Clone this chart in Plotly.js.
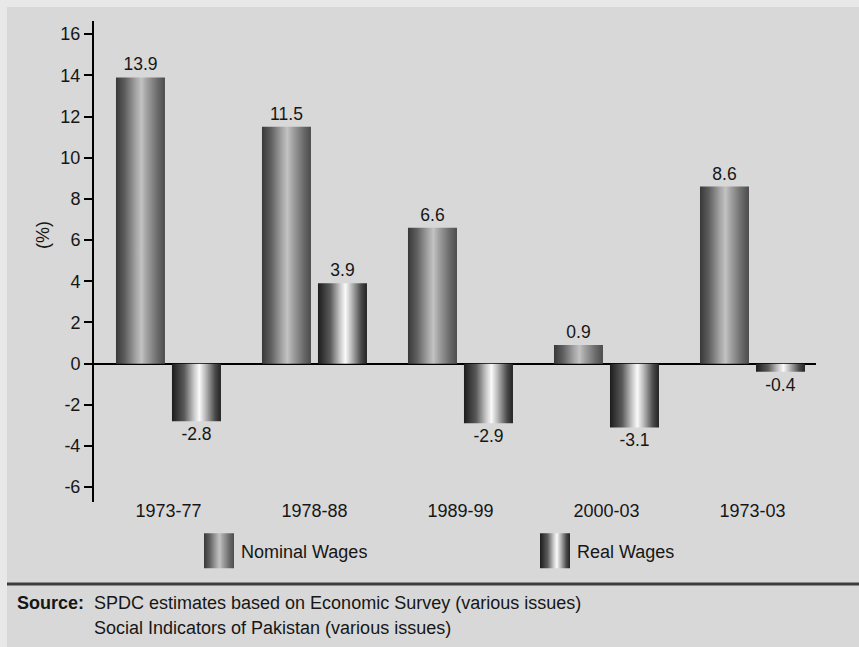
<!DOCTYPE html>
<html><head><meta charset="utf-8">
<script src="https://cdn.plot.ly/plotly-3.0.1.min.js"></script>
<style>
html,body{margin:0;padding:0;background:#e8e8e8;width:859px;height:647px;overflow:hidden}
#chart{position:absolute;left:7px;top:7px;width:852px;height:640px}
</style></head><body><div id="chart"></div>
<script>
// ---- data ----
const periods = ['1973-77', '1978-88', '1989-99', '2000-03', '1973-03'];
const nominalWages = [13.9, 11.5, 6.6, 0.9, 8.6];
const realWages = [-2.8, 3.9, -2.9, -3.1, -0.4];
const seriesNames = ['Nominal Wages', 'Real Wages'];
const yTickValues = [-6, -4, -2, 0, 2, 4, 6, 8, 10, 12, 14, 16];
const yTitle = '(%)';
const sourceLabel = 'Source:';
const sourceLines = ['SPDC estimates based on Economic Survey (various issues)',
                     'Social Indicators of Pakistan (various issues)'];

// ---- geometry helpers (page pixel -> paper) ----
const W = 852, H = 640;
const M = {l: 87, r: 43, t: 14, b: 145};
const PW = W - M.l - M.r, PH = H - M.t - M.b;
const px = x => (x - 7 - M.l) / PW;
const py = y => (H - M.b + 7 - y) / PH;

const FONT = '"Liberation Sans", Arial, Helvetica, sans-serif';
const TXT = '#161616';

const gradients = [
  [[0, '#383838'], [0.18, '#5e5e5e'], [0.42, '#a8a8a8'], [0.52, '#c2c2c2'], [0.62, '#a4a4a4'], [0.85, '#6a6a6a'], [1, '#4c4c4c']],
  [[0, '#1c1c1c'], [0.25, '#5a5a5a'], [0.45, '#c8c8c8'], [0.56, '#fafafa'], [0.68, '#bcbcbc'], [0.88, '#4a4a4a'], [1, '#222222']]
];

const mk = (name, vals, legendId) => ({
  type: 'bar', name: name, x: periods, y: vals, legend: legendId,
  text: vals.map(v => String(v)), textposition: 'outside',
  textfont: {family: FONT, size: 17.5, color: TXT},
  constraintext: 'none', cliponaxis: false,
  marker: {color: '#888888', line: {width: 0}},
  hoverinfo: 'x+y'
});

const data = [mk(seriesNames[0], nominalWages, 'legend'), mk(seriesNames[1], realWages, 'legend2')];

const legendBase = {orientation: 'h', xanchor: 'left', yanchor: 'middle', y: py(551),
                    bgcolor: 'rgba(0,0,0,0)', borderwidth: 0,
                    font: {family: FONT, size: 18, color: TXT}};

const layout = {
  width: W, height: H,
  margin: M,
  paper_bgcolor: '#d8d8d8', plot_bgcolor: '#d8d8d8',
  font: {family: FONT, size: 18, color: TXT},
  barmode: 'group', bargap: 0.233, bargroupgap: 0.125,
  showlegend: true,
  legend: Object.assign({}, legendBase, {x: px(201)}),
  legend2: Object.assign({}, legendBase, {x: px(537)}),
  xaxis: {type: 'category', range: [-0.51, 4.435], showline: false, showgrid: false,
          zeroline: false, ticks: '', ticklabelstandoff: -4,
          tickfont: {family: FONT, size: 18, color: TXT}, fixedrange: true},
  yaxis: {range: [-6.72, 16.64], tickvals: yTickValues, ticktext: yTickValues.map(String),
          showline: true, linecolor: '#000', linewidth: 2,
          ticks: 'outside', ticklen: 8, tickwidth: 2, tickcolor: '#000',
          showgrid: false, zeroline: true, zerolinecolor: '#000', zerolinewidth: 2,
          tickfont: {family: FONT, size: 18, color: TXT}, fixedrange: true},
  shapes: [{type: 'line', xref: 'paper', yref: 'paper', x0: px(7), x1: px(859), y0: py(584), y1: py(584),
            line: {color: '#3c3c3c', width: 3}}],
  annotations: [
    {text: yTitle, textangle: -90, xref: 'paper', yref: 'paper', x: px(43), y: py(235),
     xanchor: 'center', yanchor: 'middle', showarrow: false, font: {family: FONT, size: 18, color: TXT}},
    {text: '<b>' + sourceLabel + '</b>', xref: 'paper', yref: 'paper', x: px(15), y: py(603),
     xanchor: 'left', yanchor: 'middle', showarrow: false, font: {family: FONT, size: 18, color: TXT}},
    {text: sourceLines[0], xref: 'paper', yref: 'paper', x: px(92), y: py(603),
     xanchor: 'left', yanchor: 'middle', showarrow: false, font: {family: FONT, size: 18, color: TXT}},
    {text: sourceLines[1], xref: 'paper', yref: 'paper', x: px(92), y: py(628),
     xanchor: 'left', yanchor: 'middle', showarrow: false, font: {family: FONT, size: 18, color: TXT}}
  ]
};

const gd = document.getElementById('chart');
Plotly.newPlot(gd, data, layout, {displayModeBar: false, staticPlot: true}).then(applyGradients);

function applyGradients() {
  const ns = 'http://www.w3.org/2000/svg';
  const svg = gd.querySelector('svg.main-svg');
  let defs = svg.querySelector('defs');
  if (!defs) { defs = document.createElementNS(ns, 'defs'); svg.insertBefore(defs, svg.firstChild); }
  gradients.forEach((stops, i) => {
    const lg = document.createElementNS(ns, 'linearGradient');
    lg.setAttribute('id', 'barGrad' + i);
    lg.setAttribute('x1', '0'); lg.setAttribute('y1', '0');
    lg.setAttribute('x2', '1'); lg.setAttribute('y2', '0');
    stops.forEach(([o, c]) => {
      const s = document.createElementNS(ns, 'stop');
      s.setAttribute('offset', o); s.setAttribute('stop-color', c);
      lg.appendChild(s);
    });
    defs.appendChild(lg);
  });
  gd.querySelectorAll('.barlayer .trace').forEach((t, i) => {
    t.querySelectorAll('.point path').forEach(p => { p.style.fill = 'url(#barGrad' + i + ')'; });
  });
  gd.querySelectorAll('g.legend .traces, g.legend2 .traces').forEach((t, k) => {
    let i = k;
    try { i = t.__data__[0].trace.index; } catch (e) {}
    t.querySelectorAll('.legendpoints path').forEach(p => {
      p.setAttribute('d', 'M13,17.5H-17V-17.5H13Z');
      p.style.fill = 'url(#barGrad' + i + ')';
      p.style.stroke = 'none';
    });
  });
}
</script></body></html>
